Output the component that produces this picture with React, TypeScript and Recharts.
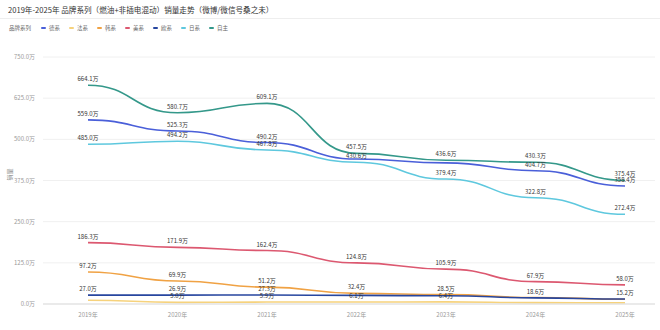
import { LineChart, Line, XAxis, YAxis, CartesianGrid } from 'recharts'

const YEARS = ['2019年', '2020年', '2021年', '2022年', '2023年', '2024年', '2025年']

// 各品牌系列销量（万辆）
const DE = [559.0, 525.3, 490.2, 440.2, 428.5, 404.7, 358.4]
const FA = [11.6, 5.0, 5.9, 6.1, 6.4, 4.2, 3.6]
const HAN = [97.2, 69.9, 51.2, 32.4, 28.5, 19.8, 14.6]
const MEI = [186.3, 171.9, 162.4, 124.8, 105.9, 67.9, 58.0]
const OU = [27.0, 26.9, 27.3, 26.1, 25.0, 18.6, 15.2]
const RI = [485.0, 494.2, 467.8, 430.6, 379.4, 322.8, 272.4]
const ZIZHU = [664.1, 580.7, 609.1, 457.5, 436.6, 430.3, 375.4]

const Y_TICKS = [0, 125, 250, 375, 500, 625, 750]

// 重叠被隐藏的标签（系列-年份下标）
const HIDDEN_LABELS = ['de-3', 'de-4', 'fa-0', 'fa-5', 'fa-6', 'han-5', 'han-6', 'ou-3', 'ou-4']

const SERIES = [
  { key: 'de', name: '德系', color: '#4a5fd9', values: DE },
  { key: 'fa', name: '法系', color: '#f6d27c', values: FA },
  { key: 'han', name: '韩系', color: '#f0a244', values: HAN },
  { key: 'mei', name: '美系', color: '#dc5870', values: MEI },
  { key: 'ou', name: '欧系', color: '#27469f', values: OU },
  { key: 'ri', name: '日系', color: '#5ec8de', values: RI },
  { key: 'zizhu', name: '自主', color: '#34988a', values: ZIZHU },
]

const data = YEARS.map((year, i) => {
  const row: Record<string, string | number> = { year }
  SERIES.forEach(s => { row[s.key] = s.values[i] })
  return row
})

const FONT = '"Microsoft YaHei", "Noto Sans CJK SC", sans-serif'

const makeLabel = (seriesKey: string) => (props: any) => {
  const { x, y, value, index } = props
  if (HIDDEN_LABELS.includes(`${seriesKey}-${index}`)) return null
  return (
    <text x={x} y={y - 4} textAnchor="middle" fontSize={6} fill="#333" fontFamily={FONT}>
      {`${Number(value).toFixed(1)}万`}
    </text>
  )
}

export default function App() {
  return (
    <div style={{ position: 'absolute', left: 0, top: 0, width: 660, height: 330, background: '#fff', fontFamily: FONT }}>
      <div style={{ position: 'absolute', left: 8, top: 4, fontSize: 7.6, color: '#333', whiteSpace: 'nowrap' }}>
        2019年-2025年 品牌系列（燃油+非插电混动）销量走势（微博/微信号桑之未）
      </div>
      <div style={{ position: 'absolute', left: 0, top: 18, width: 660, height: 1, background: '#eee' }} />
      {/* 图例 */}
      <div style={{ position: 'absolute', left: 9, top: 24, display: 'flex', alignItems: 'center', fontSize: 5.5, color: '#666', whiteSpace: 'nowrap' }}>
        <span style={{ marginRight: 10 }}>品牌系列</span>
        {SERIES.map(s => (
          <span key={s.key} style={{ display: 'flex', alignItems: 'center', marginRight: 9 }}>
            <span style={{ display: 'inline-block', width: 5, height: 2, background: s.color, marginRight: 3, borderRadius: 1 }} />
            {s.name}
          </span>
        ))}
      </div>
      <LineChart width={660} height={330} data={data} margin={{ top: 57, right: 5, bottom: 0, left: 0 }}>
        <CartesianGrid vertical={false} stroke="#f0f0f0" />
        <XAxis
          dataKey="year"
          height={26}
          padding={{ left: 45, right: 30 }}
          tickLine={false}
          axisLine={{ stroke: '#ddd' }}
          tick={{ fontSize: 6, fill: '#999', fontFamily: FONT }}
          dy={1}
        />
        <YAxis
          width={43}
          domain={[0, 750]}
          ticks={Y_TICKS}
          tickLine={false}
          axisLine={false}
          tickFormatter={(v: number) => `${v.toFixed(1)}万`}
          tick={{ fontSize: 6, fill: '#999', fontFamily: FONT }}
          label={{ value: '销量', angle: -90, position: 'insideLeft', offset: 10, fontSize: 6, fill: '#888' }}
        />
        {SERIES.map(s => (
          <Line
            key={s.key}
            type="bumpX"
            dataKey={s.key}
            name={s.name}
            stroke={s.color}
            strokeWidth={1.6}
            dot={false}
            isAnimationActive={false}
            label={makeLabel(s.key)}
          />
        ))}
      </LineChart>
    </div>
  )
}
